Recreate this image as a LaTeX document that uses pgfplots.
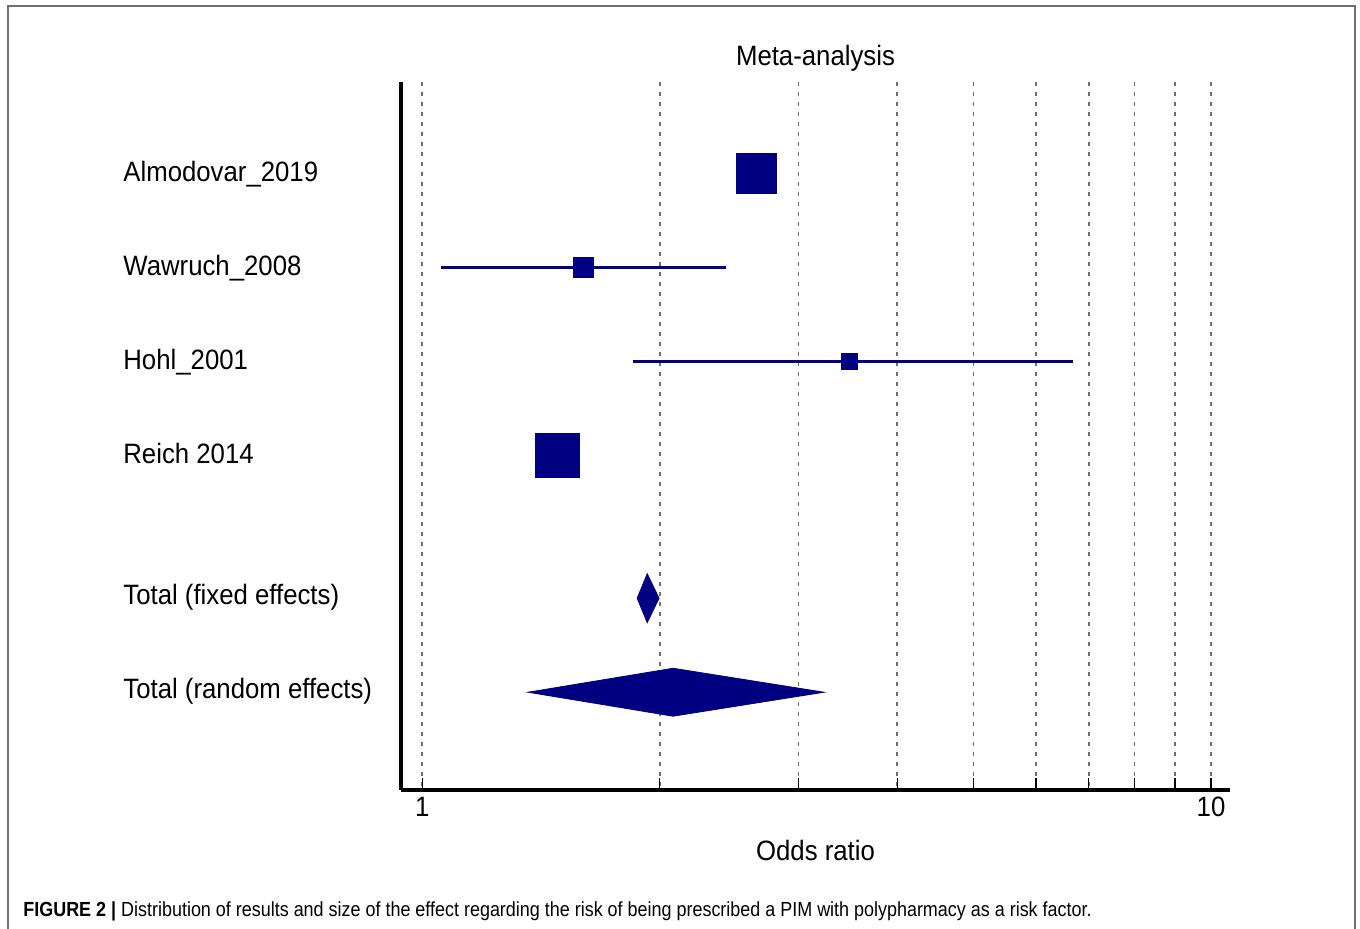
\documentclass[border=0pt]{standalone}
\usepackage{fontspec}
\setmainfont[FakeStretch=0.92]{Liberation Sans}
\newfontfamily\capfont[FakeStretch=0.88]{Liberation Sans}
\usepackage{pgfplots}
\pgfplotsset{compat=1.18}
\definecolor{navy}{RGB}{0,0,128}
\definecolor{framegray}{RGB}{112,112,112}
\definecolor{gridgray}{RGB}{110,110,110}
\begin{document}
\begin{tikzpicture}
\useasboundingbox (0,0) rectangle (680pt,464pt);
\draw[framegray, line width=1pt] (3.75pt,-1pt) -- (3.75pt,460.75pt) -- (677.5pt,460.75pt) -- (677.5pt,-1pt);
\begin{axis}[
  at={(200.5pt,69pt)}, anchor=south west,
  scale only axis, width=414.5pt, height=354pt,
  xmode=log, xmin=0.94, xmax=10.57,
  ymin=0.03, ymax=7.56, y dir=reverse,
  axis x line*=bottom, axis y line*=left,
  axis line style={-, line width=1.6pt, black},
  xtick={1,10}, xticklabels={1,10},
  minor xtick={2,3,4,5,6,7,8,9},
  xmajorgrids, xminorgrids,
  major grid style={gridgray, line width=0.9pt, dash pattern=on 2pt off 3pt},
  minor grid style={gridgray, line width=0.9pt, dash pattern=on 2pt off 3pt},
  tick align=inside,
  xtick pos=bottom,
  major tick length=6pt, minor tick length=6pt,
  x tick style={black, line width=0.6pt},
  ytick={1,2,3,4,5.5,6.5},
  yticklabels={Almodovar\_2019, Wawruch\_2008, Hohl\_2001, Reich 2014, Total (fixed effects), Total (random effects)},
  y tick style={draw=none},
  yticklabel style={anchor=base west, inner sep=0pt, xshift=-139pt, yshift=-4pt},
  font=\fontsize{14}{16}\selectfont,
  ticklabel style={font=\fontsize{14}{16}\selectfont},
  title=Meta-analysis,
  title style={at={(axis description cs:0.5,1)}, anchor=center, yshift=6pt},
  xlabel=Odds ratio,
  xlabel style={at={(axis description cs:0.5,0)}, anchor=center, yshift=-30pt},
  clip=false,
]
% confidence intervals
\addplot[navy, line width=1.5pt] coordinates {(1.056,2) (2.428,2)};
\addplot[navy, line width=1.5pt] coordinates {(1.849,3) (6.678,3)};
% study estimates
\addplot[only marks, mark=square*, mark size=10pt, navy, mark options={fill=navy}] coordinates {(2.65,1)};
\addplot[only marks, mark=square*, mark size=5pt, navy, mark options={fill=navy}] coordinates {(1.601,2)};
\addplot[only marks, mark=square*, mark size=3.9pt, navy, mark options={fill=navy}] coordinates {(3.48,3)};
\addplot[only marks, mark=square*, mark size=11pt, navy, mark options={fill=navy}] coordinates {(1.485,4)};
% pooled estimates
\addplot[navy, fill=navy] coordinates {(1.873,5.52) (1.929,5.26) (1.997,5.52) (1.929,5.78)} -- cycle;
\addplot[navy, fill=navy] coordinates {(1.362,6.52) (2.080,6.265) (3.232,6.52) (2.080,6.775)} -- cycle;
\end{axis}
\node[anchor=base west, inner sep=0pt, font=\capfont\fontsize{10.2}{12}\selectfont] at (11.5pt,6pt)
  {{\bfseries FIGURE 2 |} Distribution of results and size of the effect regarding the risk of being prescribed a PIM with polypharmacy as a risk factor.};
\end{tikzpicture}
\end{document}
